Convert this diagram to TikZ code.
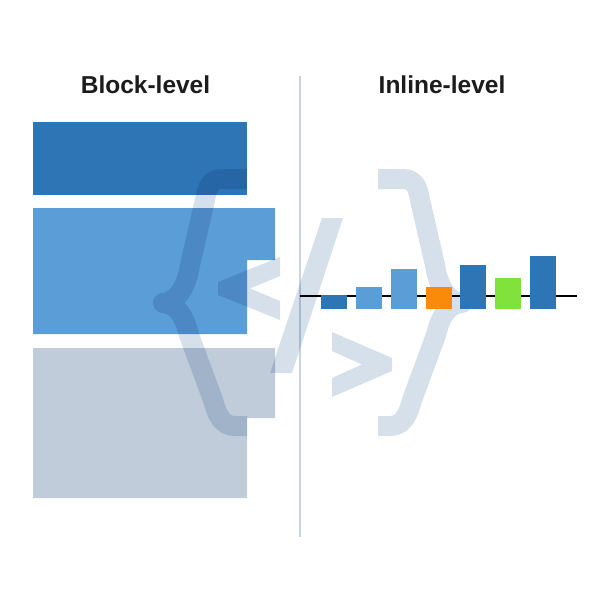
\documentclass[tikz,border=0pt]{standalone}
\usepackage{fontspec}
\setmainfont{Liberation Sans}
\usepackage{tikz}
\usetikzlibrary{backgrounds}
\definecolor{blockdark}{HTML}{2E75B6}
\definecolor{blockmid}{HTML}{5B9DD6}
\definecolor{blockgray}{HTML}{C0CCDA}
\definecolor{markgray}{HTML}{D6E0EA}
\definecolor{rulegray}{HTML}{C8D4E0}
\definecolor{barorange}{HTML}{F98A0A}
\definecolor{bargreen}{HTML}{80E23A}
\definecolor{titleink}{HTML}{1C1C1C}

\begin{document}
\begin{tikzpicture}[x=1pt,y=-1pt,
  heading/.style={font=\bfseries\fontsize{24.5}{29}\selectfont,text=titleink,anchor=base,inner sep=0pt},
  markline/.style={draw=markgray,line width=20pt,line join=round},
  curly/.pic={\draw[markline] (247,179) -- (222,179) .. controls (210,179) and (207,188) .. (205,200)
     -- (190,265) .. controls (187,285) and (178,302) .. (163,303)
     .. controls (178,304) and (185,318) .. (189,335)
     -- (213,400) .. controls (217,415) and (222,426) .. (235,426) -- (247,426);}]
\useasboundingbox[fill=white] (0,0) rectangle (600,600);
\node[heading] (blocktitle) at (145.5,93) {Block-level};
\node[heading] (inlinetitle) at (442,93) {Inline-level};
\coordinate (ruletop) at (300,76);
\coordinate (rulebottom) at (300,537);
\draw[rulegray,line width=1.8pt] (ruletop) -- (rulebottom);
% block-level boxes
\fill[blockdark] (33,122) rectangle (247,195);
\fill[blockmid] (33,208) -- (275,208) -- (275,260) -- (247,260) -- (247,334) -- (33,334) -- cycle;
\fill[blockgray] (33,348) -- (275,348) -- (275,418) -- (247,418) -- (247,498) -- (33,498) -- cycle;
% watermark
\begin{scope}[blend mode=multiply]
\pic at (0,0) {curly};
\pic[xscale=-1] at (625,0) {curly};
\fill[markgray] (280,257) -- (218,282) -- (218,295) -- (280,320) -- (280,301) -- (250,288.5) -- (280,276) -- cycle;
\fill[markgray] (322,218) -- (343,218) -- (292,373) -- (270,373) -- cycle;
\fill[markgray] (332,332) -- (392,358) -- (392,371) -- (332,397) -- (332,378) -- (362,364.5) -- (332,351) -- cycle;
\end{scope}
% inline-level boxes
\coordinate (linestart) at (300,296);
\coordinate (lineend) at (577,296);
\draw[line width=2pt] (linestart) -- (lineend);
\fill[blockdark] (321,295) rectangle (347,309);
\fill[blockmid] (356,287) rectangle (382,309);
\fill[blockmid] (391,269) rectangle (417,309);
\fill[barorange] (426,287) rectangle (452,309);
\fill[blockdark] (460,265) rectangle (486,309);
\fill[bargreen] (495,278) rectangle (521,309);
\fill[blockdark] (530,256) rectangle (556,309);
\end{tikzpicture}
\end{document}
